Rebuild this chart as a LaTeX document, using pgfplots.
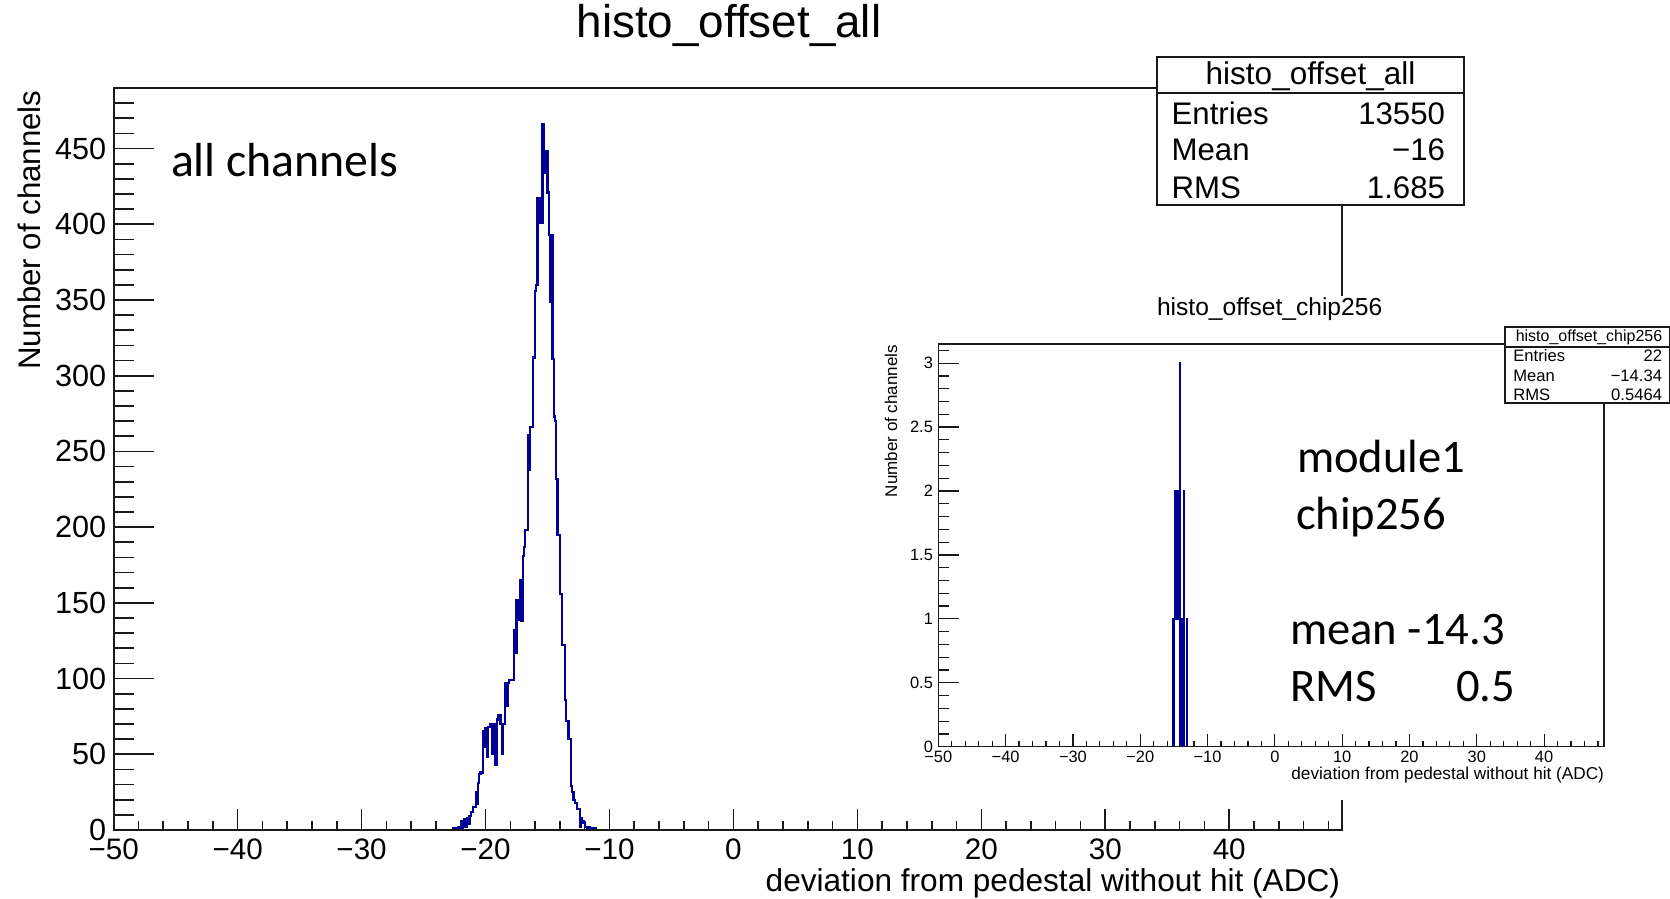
\documentclass[border=0pt]{standalone}
\usepackage{fontspec}
\setmainfont{Liberation Sans}
\newfontfamily\calibri{Carlito}
\usepackage{pgfplots}
\usepackage{pgfplotstable}
\pgfplotsset{compat=1.18}
\definecolor{histblue}{RGB}{0,0,150}
\definecolor{framegray}{RGB}{25,25,25}
\newcommand\fs[1]{\fontsize{#1}{#1}\selectfont}

\pgfplotstableread{
x y
-22.7 0
-22.6 1
-22.5 0
-22.4 1
-22.3 1
-22.2 2
-22.1 1
-22.0 6
-21.9 1
-21.8 2
-21.7 7
-21.6 2
-21.5 8
-21.4 4
-21.3 9
-21.2 12
-21.1 12
-21.0 15
-20.9 15
-20.8 25
-20.7 17
-20.6 31
-20.5 37
-20.4 38
-20.3 38
-20.2 65
-20.1 55
-20.0 67
-19.9 48
-19.8 68
-19.7 68
-19.6 70
-19.5 50
-19.4 70
-19.3 70
-19.2 43
-19.1 73
-19.0 76
-18.9 76
-18.8 70
-18.7 50
-18.6 70
-18.5 70
-18.4 97
-18.3 82
-18.2 97
-18.1 99
-18.0 99
-17.9 99
-17.8 99
-17.7 132
-17.6 117
-17.5 152
-17.4 139
-17.3 152
-17.2 165
-17.1 138
-17.0 181
-16.9 187
-16.8 198
-16.7 198
-16.6 261
-16.5 238
-16.4 266
-16.3 266
-16.2 312
-16.1 312
-16.0 356
-15.9 360
-15.8 417
-15.7 401
-15.6 417
-15.5 401
-15.4 466
-15.3 442
-15.2 434
-15.1 448
-15.0 421
-14.9 393
-14.8 349
-14.7 393
-14.6 311
-14.5 273
-14.4 270
-14.3 232
-14.2 195
-14.1 195
-14.0 156
-13.9 156
-13.8 122
-13.7 122
-13.6 86
-13.5 72
-13.4 72
-13.3 60
-13.2 60
-13.1 29
-13.0 25
-12.9 20
-12.8 18
-12.7 18
-12.6 14
-12.5 14
-12.4 2
-12.3 8
-12.2 6
-12.1 5
-12.0 2
-11.9 2
-11.8 1
-11.7 2
-11.6 1
-11.5 1
-11.4 1
-11.3 0
-11.2 1
-11.1 0
-11.0 0
}\maindata

\pgfplotstableread{
x y
-15.3 0
-15.2 1
-15.1 0
-15.0 1
-14.9 2
-14.8 1
-14.7 2
-14.6 2
-14.5 1
-14.4 2
-14.3 2
-14.2 3
-14.1 0
-14.0 1
-13.9 0
-13.8 1
-13.7 0
-13.6 2
-13.5 0
-13.4 0
-13.3 0
-13.2 0
-13.1 1
-13.0 0
-12.9 0
}\insetdata

\begin{document}
\begin{tikzpicture}[txt/.style={inner sep=0pt, outer sep=0pt}]
\path[use as bounding box] (0pt,0pt) rectangle (835pt,449.5pt);

% ---------- main histogram (x ticks + data)
\begin{axis}[
  at={(56.85pt,34.5pt)}, anchor=south west, scale only axis,
  width=614.15pt, height=371pt,
  xmin=-50, xmax=49.1, ymin=0, ymax=490,
  axis line style={line width=0.9pt, draw=framegray},
  tick pos=left, tick align=inside,
  xtick={-50,-40,-30,-20,-10,0,10,20,30,40},
  xticklabels={−50,−40,−30,−20,−10,0,10,20,30,40},
  minor xtick={-48,-46,...,48},
  ytick=\empty,
  major tick length=10.5pt, minor tick length=4.7pt,
  tick style={line width=0.8pt, draw=framegray},
  xticklabel style={font=\fs{14.8}, inner sep=0pt, yshift=-4.25pt},
]
\addplot[const plot mark left, draw=histblue, line width=1.1pt, mark=none] table[x=x,y=y] {\maindata};
\end{axis}
% ---------- main histogram (y ticks)
\begin{axis}[
  at={(56.85pt,34.5pt)}, anchor=south west, scale only axis,
  width=614.15pt, height=371pt,
  xmin=-50, xmax=49.1, ymin=0, ymax=490,
  axis line style={line width=0.9pt, draw=framegray},
  tick pos=left, tick align=inside,
  xtick=\empty,
  ytick={0,50,100,150,200,250,300,350,400,450},
  yticklabels={0,50,100,150,200,250,300,350,400,450},
  minor ytick={10,20,...,490},
  major tick length=20pt, minor tick length=10pt,
  tick style={line width=0.8pt, draw=framegray},
  yticklabel style={font=\fs{15.3}, inner sep=0pt, xshift=-3.6pt},
]
\end{axis}

% title and main labels
\node[txt, anchor=base, font=\fs{22.9}] at (364.5pt,430.5pt) {histo\_offset\_all};
\node[txt, rotate=90, anchor=base east, font=\fs{15.6}] at (20pt,404.25pt) {Number of channels};
\node[txt, anchor=base east, font=\fs{15.8}] at (670pt,3.5pt) {deviation from pedestal without hit (ADC)};
\node[txt, anchor=base west, font=\calibri\fs{23.9}] at (85.5pt,361pt) {all channels};

% inset pad
\fill[white] (437.5pt,49.5pt) rectangle (835pt,301.5pt);

% main stats box
\draw[fill=white, line width=0.9pt, draw=framegray] (578.5pt,347pt) rectangle (732pt,421pt);
\draw[line width=0.9pt, draw=framegray] (578.5pt,403pt) -- (732pt,403pt);
\node[txt, anchor=base, font=\fs{15.75}] at (655.25pt,407.35pt) {histo\_offset\_all};
\node[txt, anchor=base west, font=\fs{15.6}] at (585.8pt,387.35pt) {Entries};
\node[txt, anchor=base east, font=\fs{15.6}] at (722.5pt,387.35pt) {13550};
\node[txt, anchor=base west, font=\fs{15.6}] at (585.8pt,369pt) {Mean};
\node[txt, anchor=base east, font=\fs{15.6}] at (722.5pt,369pt) {−16};
\node[txt, anchor=base west, font=\fs{15.6}] at (585.8pt,350.35pt) {RMS};
\node[txt, anchor=base east, font=\fs{15.6}] at (722.5pt,350.35pt) {1.685};

% inset title
\node[txt, anchor=base west, font=\fs{12.3}] at (578.5pt,291.5pt) {histo\_offset\_chip256};

% ---------- inset (x ticks + data)
\begin{axis}[
  at={(469.15pt,76.15pt)}, anchor=south west, scale only axis,
  width=332.85pt, height=201.35pt,
  xmin=-50, xmax=48.9, ymin=0, ymax=3.15,
  axis line style={line width=0.7pt, draw=framegray},
  tick pos=left, tick align=inside,
  xtick={-50,-40,-30,-20,-10,0,10,20,30,40},
  xticklabels={−50,−40,−30,−20,−10,0,10,20,30,40},
  minor xtick={-48,-46,...,48},
  ytick=\empty,
  major tick length=6.5pt, minor tick length=3pt,
  tick style={line width=0.6pt, draw=framegray},
  xticklabel style={font=\fs{8.2}, inner sep=0pt, yshift=-2pt},
]
\addplot[const plot mark left, draw=histblue, line width=0.7pt, mark=none] table[x=x,y=y] {\insetdata};
\end{axis}
% ---------- inset (y ticks)
\begin{axis}[
  at={(469.15pt,76.15pt)}, anchor=south west, scale only axis,
  width=332.85pt, height=201.35pt,
  xmin=-50, xmax=48.9, ymin=0, ymax=3.15,
  axis line style={line width=0.7pt, draw=framegray},
  tick pos=left, tick align=inside,
  xtick=\empty,
  ytick={0,0.5,1,1.5,2,2.5,3},
  yticklabels={0,0.5,1,1.5,2,2.5,3},
  minor ytick={0.1,0.2,0.3,0.4,0.6,0.7,0.8,0.9,1.1,1.2,1.3,1.4,1.6,1.7,1.8,1.9,2.1,2.2,2.3,2.4,2.6,2.7,2.8,2.9,3.1},
  major tick length=10.5pt, minor tick length=5.5pt,
  tick style={line width=0.6pt, draw=framegray},
  yticklabel style={font=\fs{8.2}, inner sep=0pt, xshift=-2.5pt},
]
\end{axis}

\node[txt, rotate=90, anchor=base east, font=\fs{8.5}] at (448.5pt,277pt) {Number of channels};
\node[txt, anchor=base east, font=\fs{8.6}] at (802pt,59.5pt) {deviation from pedestal without hit (ADC)};

% inset stats box
\draw[fill=white, line width=0.7pt, draw=framegray] (752.5pt,248pt) rectangle (834.6pt,286pt);
\draw[line width=0.7pt, draw=framegray] (752.5pt,276pt) -- (834.6pt,276pt);
\node[txt, anchor=base, font=\fs{8}] at (794.5pt,278.6pt) {histo\_offset\_chip256};
\node[txt, anchor=base west, font=\fs{8.3}] at (756.7pt,268.8pt) {Entries};
\node[txt, anchor=base east, font=\fs{8.3}] at (831pt,268.8pt) {22};
\node[txt, anchor=base west, font=\fs{8.3}] at (756.7pt,258.8pt) {Mean};
\node[txt, anchor=base east, font=\fs{8.3}] at (831pt,258.8pt) {−14.34};
\node[txt, anchor=base west, font=\fs{8.3}] at (756.7pt,249.3pt) {RMS};
\node[txt, anchor=base east, font=\fs{8.3}] at (831pt,249.3pt) {0.5464};

% annotations in the inset
\node[txt, anchor=base west, font=\calibri\fs{23.3}] at (648.5pt,213pt) {module1};
\node[txt, anchor=base west, font=\calibri\fs{23.3}] at (648pt,184.5pt) {chip256};
\node[txt, anchor=base west, font=\calibri\fs{23.3}] at (645pt,127pt) {mean -14.3};
\node[txt, anchor=base west, font=\calibri\fs{23.3}] at (645pt,98.5pt) {RMS};
\node[txt, anchor=base east, font=\calibri\fs{23.3}] at (757.5pt,98.5pt) {0.5};
\end{tikzpicture}
\end{document}
